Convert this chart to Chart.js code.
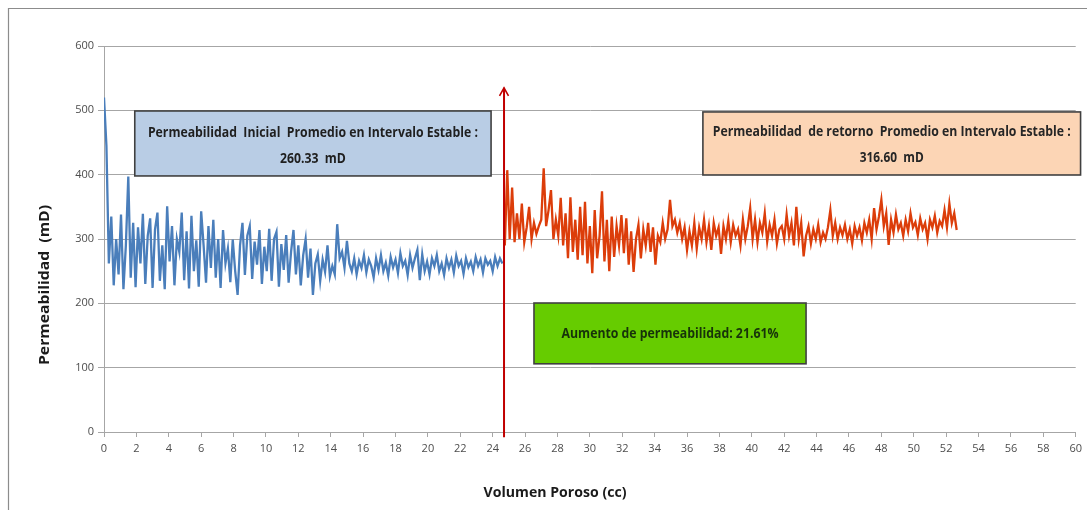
<!DOCTYPE html>
<html><head><meta charset="utf-8">
<script src="https://cdn.jsdelivr.net/npm/chart.js@4.4.1/dist/chart.umd.min.js"></script>
<style>html,body{margin:0;padding:0;background:#fff}canvas{display:block}</style>
</head><body>
<canvas id="c" width="1087" height="510"></canvas>
<script>
// ---- Data ----
const blueX = [
0,0.15,0.3,0.45,0.6,0.75,0.9,1.05,1.2,1.35,
1.5,1.65,1.8,1.95,2.1,2.25,2.4,2.55,2.7,2.85,
3,3.15,3.3,3.45,3.6,3.75,3.9,4.05,4.2,4.35,
4.5,4.65,4.8,4.95,5.1,5.25,5.4,5.55,5.7,5.85,
6,6.15,6.3,6.45,6.6,6.75,6.9,7.05,7.2,7.35,
7.5,7.65,7.8,7.95,8.1,8.25,8.4,8.55,8.7,8.85,
9,9.15,9.3,9.45,9.6,9.75,9.9,10.05,10.2,10.35,
10.5,10.65,10.8,10.95,11.1,11.25,11.4,11.55,11.7,11.85,
12,12.15,12.3,12.45,12.6,12.75,12.9,13.05,13.2,13.35,
13.5,13.65,13.8,13.95,14.1,14.25,14.4,14.55,14.7,14.85,
15,15.15,15.3,15.45,15.6,15.75,15.9,16.05,16.2,16.35,
16.5,16.65,16.8,16.95,17.1,17.25,17.4,17.55,17.7,17.85,
18,18.15,18.3,18.45,18.6,18.75,18.9,19.05,19.2,19.35,
19.5,19.65,19.8,19.95,20.1,20.25,20.4,20.55,20.7,20.85,
21,21.15,21.3,21.45,21.6,21.75,21.9,22.05,22.2,22.35,
22.5,22.65,22.8,22.95,23.1,23.25,23.4,23.55,23.7,23.85,
24,24.15,24.3,24.45,24.6];
const blueY = [
520,445,262,335,228,300,245,338,222,290,
397,240,325,225,318,262,339,230,305,332,
224,315,341,235,290,222,351,265,320,228,
300,280,341,236,312,223,336,250,298,226,
343,290,232,320,255,330,240,300,224,314,
262,285,233,299,250,213,290,325,244,305,
320,238,296,260,314,230,288,250,316,235,
300,311,226,292,252,306,232,280,314,245,
290,228,275,300,240,285,213,262,276,235,
268,249,290,242,258,245,323,270,280,255,
297,262,250,270,245,266,255,275,248,268,
258,240,270,252,275,250,263,243,272,256,
268,247,278,258,266,244,275,255,270,283,
236,276,250,265,245,270,258,275,250,262,
244,270,255,268,248,274,258,266,246,270,
256,265,250,272,258,268,248,270,260,266,
250,272,258,270,262];
const redX = [
24.75,24.9,25.05,25.2,25.35,25.5,25.65,25.8,25.95,26.1,
26.25,26.4,26.55,26.7,26.85,27,27.15,27.3,27.45,27.6,
27.75,27.9,28.05,28.2,28.35,28.5,28.65,28.8,28.95,29.1,
29.25,29.4,29.55,29.7,29.85,30,30.15,30.3,30.45,30.6,
30.75,30.9,31.05,31.2,31.35,31.5,31.65,31.8,31.95,32.1,
32.25,32.4,32.55,32.7,32.85,33,33.15,33.3,33.45,33.6,
33.75,33.9,34.05,34.2,34.35,34.5,34.65,34.8,34.95,35.1,
35.25,35.4,35.55,35.7,35.85,36,36.15,36.3,36.45,36.6,
36.75,36.9,37.05,37.2,37.35,37.5,37.65,37.8,37.95,38.1,
38.25,38.4,38.55,38.7,38.85,39,39.15,39.3,39.45,39.6,
39.75,39.9,40.05,40.2,40.35,40.5,40.65,40.8,40.95,41.1,
41.25,41.4,41.55,41.7,41.85,42,42.15,42.3,42.45,42.6,
42.75,42.9,43.05,43.2,43.35,43.5,43.65,43.8,43.95,44.1,
44.25,44.4,44.55,44.7,44.85,45,45.15,45.3,45.45,45.6,
45.75,45.9,46.05,46.2,46.35,46.5,46.65,46.8,46.95,47.1,
47.25,47.4,47.55,47.7,47.85,48,48.15,48.3,48.45,48.6,
48.75,48.9,49.05,49.2,49.35,49.5,49.65,49.8,49.95,50.1,
50.25,50.4,50.55,50.7,50.85,51,51.15,51.3,51.45,51.6,
51.75,51.9,52.05,52.2,52.35,52.5,52.65];
const redY = [
290,407,300,380,295,340,300,355,295,318,
350,300,325,308,320,330,410,320,345,376,
300,330,305,364,290,340,270,365,280,330,
268,350,275,358,262,320,247,345,270,305,
374,265,330,250,335,272,320,290,337,278,
332,260,312,249,300,322,270,315,290,325,
280,318,260,305,295,325,300,315,361,320,
330,310,325,300,318,283,312,290,325,285,
318,300,330,295,320,283,325,305,318,277,
320,300,328,295,322,305,315,290,330,300,
320,348,300,330,295,325,310,340,296,322,
305,330,293,315,320,300,338,305,325,290,
350,300,325,273,305,320,293,315,300,322,
295,310,300,318,345,305,325,300,318,306,
322,300,315,293,320,305,318,298,325,310,
330,300,348,315,335,361,320,340,291,330,
310,338,315,325,305,330,312,340,318,326,
306,332,315,325,300,330,318,336,310,328,
320,345,318,355,325,340,314];
const xTickMin = 0, xTickMax = 60, xTickStep = 2;
const yTickMin = 0, yTickMax = 600, yTickStep = 100;
const xTitle = "Volumen Poroso (cc)";
const yTitle = "Permeabilidad  (mD)";
const arrowX = 24.7, arrowFrom = -8, arrowTo = 535;
const initialText = ["Permeabilidad  Inicial  Promedio en Intervalo Estable :", "260.33  mD"];
const returnText = ["Permeabilidad  de retorno  Promedio en Intervalo Estable :", "316.60  mD"];
const increaseText = ["Aumento de permeabilidad: 21.61%"];

// ---- Annotation layout (data coordinates) ----
const notes = [
  {x0:1.9, x1:23.9, y0:398, y1:499, fill:'#b9cde5', color:'#1f1f1f', lines:initialText, dy:[22,48], w:[330,66]},
  {x0:36.98, x1:60.3, y0:399.5, y1:497.5, fill:'#fcd5b5', color:'#262626', lines:returnText, dy:[20,46], w:[358,64]},
  {x0:26.55, x1:43.35, y0:106, y1:200.5, fill:'#66cc00', color:'#17330a', lines:increaseText, dy:[31], w:[217]}
];

const BOLD = '"Liberation Sans Narrow","Open Sans",Arial,sans-serif';
function fitText(ctx, text, cx, cy, w, font, color, rot){
  ctx.save();
  ctx.font = font; ctx.fillStyle = color;
  ctx.textAlign = 'center'; ctx.textBaseline = 'middle';
  const m = ctx.measureText(text).width;
  ctx.translate(cx, cy);
  if (rot) ctx.rotate(rot);
  ctx.scale(w / m, 1);
  ctx.fillText(text, 0, 0);
  ctx.restore();
}

const deco = {
  id: 'deco',
  beforeDraw(chart){
    const c = chart.ctx;
    c.save();
    c.fillStyle = '#fff'; c.fillRect(0,0,chart.width,chart.height);
    c.strokeStyle = '#8c8c8c'; c.lineWidth = 1.2;
    c.beginPath(); c.moveTo(8.5, chart.height+5); c.lineTo(8.5, 8.5); c.lineTo(chart.width+5, 8.5); c.stroke();
    c.restore();
  },
  afterDatasetsDraw(chart){
    const ctx = chart.ctx, xs = chart.scales.x, ys = chart.scales.y;
    const ax = xs.getPixelForValue(arrowX), a0 = ys.getPixelForValue(arrowFrom), a1 = ys.getPixelForValue(arrowTo);
    ctx.save();
    ctx.strokeStyle = '#c00000'; ctx.lineWidth = 2;
    ctx.beginPath(); ctx.moveTo(ax, a0); ctx.lineTo(ax, a1); ctx.stroke();
    ctx.lineWidth = 1.6;
    ctx.beginPath(); ctx.moveTo(ax-4.5, a1+8); ctx.lineTo(ax, a1); ctx.lineTo(ax+4.5, a1+8); ctx.stroke();
    ctx.restore();
    notes.forEach(n => {
      const l = xs.getPixelForValue(n.x0), r = xs.getPixelForValue(n.x1);
      const t = ys.getPixelForValue(n.y1), b = ys.getPixelForValue(n.y0);
      ctx.save();
      ctx.fillStyle = n.fill; ctx.fillRect(l, t, r-l, b-t);
      ctx.strokeStyle = '#404040'; ctx.lineWidth = 1.6; ctx.strokeRect(l, t, r-l, b-t);
      ctx.restore();
      n.lines.forEach((s, i) => fitText(ctx, s, (l+r)/2, t + n.dy[i], n.w[i], 'bold 14px ' + BOLD, n.color));
    });
    fitText(ctx, xTitle, 555, 493, 143, 'bold 15px ' + BOLD, '#1a1a1a');
    fitText(ctx, yTitle, 45, 285, 160, 'bold 14px ' + BOLD, '#1a1a1a', -Math.PI/2);
  }
};

const tickFont = {family:'"Liberation Sans Narrow","Open Sans",Arial,sans-serif', size: 11};

new Chart(document.getElementById('c'), {
  type: 'line',
  data: {
    datasets: [
      {label:'Inicial', data: blueX.map((v,i)=>({x:v, y:blueY[i]})), borderColor:'#4a7ebb', borderWidth:2.3, pointRadius:0, tension:0, fill:false},
      {label:'Retorno', data: redX.map((v,i)=>({x:v, y:redY[i]})), borderColor:'#dc3d0a', borderWidth:2.3, pointRadius:0, tension:0, fill:false}
    ]
  },
  options: {
    responsive: false, animation: false,
    layout: {padding: {top: 46, right: 11, left: 0, bottom: 0}},
    plugins: {legend: {display:false}, tooltip: {enabled:false}},
    scales: {
      x: {
        type: 'linear', min: xTickMin, max: xTickMax,
        ticks: {stepSize: xTickStep, autoSkip: false, maxRotation: 0, color:'#4d4d4d', font: tickFont, padding: 5},
        grid: {drawOnChartArea: false, drawTicks: true, tickLength: 5, color:'#a6a6a6'},
        border: {display: true, color:'#a6a6a6', width: 1},
        afterFit: s => { s.height = 78; }
      },
      y: {
        min: yTickMin, max: yTickMax,
        ticks: {stepSize: yTickStep, color:'#4d4d4d', font: tickFont, padding: 4},
        grid: {color:'#a6a6a6', lineWidth: 1, drawTicks: true, tickLength: 6},
        border: {display: true, color:'#a6a6a6', width: 1},
        afterFit: s => { s.width = 104; }
      }
    }
  },
  plugins: [deco]
});
</script>
</body></html>
